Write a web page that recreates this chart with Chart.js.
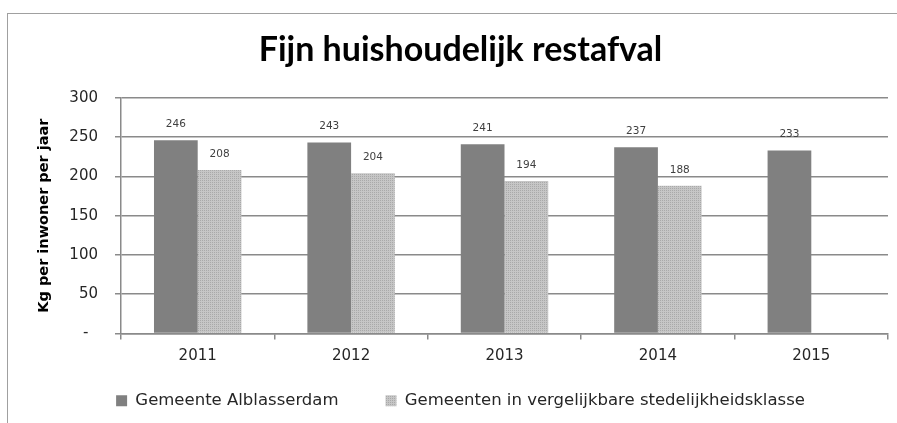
<!DOCTYPE html>
<html>
<head>
<meta charset="utf-8">
<script src="https://cdn.jsdelivr.net/npm/chart.js@4/dist/chart.umd.min.js"></script>
<style>
  html, body { margin: 0; padding: 0; background: #fff; overflow: hidden; }
  #frame { position: absolute; left: 7px; top: 13px; width: 1000px; height: 600px;
           border-left: 1.5px solid #a0a0a0; border-top: 1.5px solid #a0a0a0; }
  #wrap { position: absolute; left: 0; top: 0; width: 897px; height: 419px; }
</style>
</head>
<body>
<div id="frame"></div>
<div id="wrap"><canvas id="afvalChart"></canvas></div>
<script>
const years = ['2011', '2012', '2013', '2014', '2015'];
const alblasserdam = [246, 243, 241, 237, 233];
const vergelijkbaar = [208, 204, 194, 188, null];
const yTicks = [0, 50, 100, 150, 200, 250, 300];

const TITLE_FONT = 'Lato, "Open Sans", sans-serif';
const FONT = '"DejaVu Sans", sans-serif';
const TEXT = '#262626';
const LINE = '#8a8a8a';

function dottedPattern() {
  const c = document.createElement('canvas');
  c.width = 2;
  c.height = 2;
  const g = c.getContext('2d');
  g.fillStyle = '#c6c6c6';
  g.fillRect(0, 0, 2, 2);
  g.fillStyle = '#a9a9a9';
  g.fillRect(0, 0, 1, 1);
  return g.createPattern(c, 'repeat');
}

// waarden boven de staven
const valueLabels = {
  id: 'valueLabels',
  afterDatasetsDraw(chart) {
    const ctx = chart.ctx;
    ctx.save();
    ctx.font = `10.5px ${FONT}`;
    ctx.fillStyle = '#404040';
    ctx.textAlign = 'center';
    ctx.textBaseline = 'middle';
    chart.data.datasets.forEach((ds, i) => {
      chart.getDatasetMeta(i).data.forEach((bar, j) => {
        const v = ds.data[j];
        if (v == null) return;
        ctx.fillText(String(v), bar.x, bar.y - 16);
      });
    });
    ctx.restore();
  },
};

new Chart(document.getElementById('afvalChart').getContext('2d'), {
  type: 'bar',
  data: {
    labels: years,
    datasets: [
      {
        label: 'Gemeente Alblasserdam',
        data: alblasserdam,
        backgroundColor: '#808080',
        categoryPercentage: 0.57,
        barPercentage: 1.0,
      },
      {
        label: 'Gemeenten in vergelijkbare stedelijkheidsklasse',
        data: vergelijkbaar,
        backgroundColor: dottedPattern(),
        categoryPercentage: 0.57,
        barPercentage: 1.0,
      },
    ],
  },
  options: {
    responsive: true,
    maintainAspectRatio: false,
    animation: false,
    layout: { padding: { left: 33, right: 9, top: 0, bottom: 0 } },
    plugins: {
      title: {
        display: true,
        text: 'Fijn huishoudelijk restafval',
        color: '#000',
        font: { family: TITLE_FONT, size: 34, weight: 'bold' },
        padding: { top: 30, bottom: 27 },
      },
      legend: {
        position: 'bottom',
        labels: {
          color: TEXT,
          font: { family: FONT, size: 16.5 },
          boxWidth: 11,
          boxHeight: 11,
          padding: 26,
          // extra ruimte tussen de twee legenda-items
          generateLabels: (chart) => {
            const items = Chart.defaults.plugins.legend.labels.generateLabels(chart);
            items[0].text += '    ';
            return items;
          },
        },
      },
      tooltip: { enabled: false },
    },
    scales: {
      x: {
        offset: true,
        grid: {
          display: true,
          offset: true,
          drawOnChartArea: false,
          tickLength: 6,
          color: LINE,
          lineWidth: 1.5,
        },
        border: { color: LINE, width: 1.5 },
        ticks: { color: TEXT, font: { family: FONT, size: 15 }, padding: 8 },
        afterFit: (scale) => { scale.height = 33; },
      },
      y: {
        min: 0,
        max: 300,
        afterBuildTicks: (scale) => { scale.ticks = yTicks.map((v) => ({ value: v })); },
        grid: { color: LINE, lineWidth: 1.5, tickLength: 6 },
        border: { color: LINE, width: 1.5 },
        ticks: {
          color: TEXT,
          font: { family: FONT, size: 15 },
          padding: 17,
          callback: (v) => (v === 0 ? '-  ' : v),
        },
        title: {
          display: true,
          text: 'Kg per inwoner per jaar',
          color: '#000',
          font: { family: FONT, size: 14.5, weight: 'bold' },
          padding: { top: 3, bottom: 0 },
        },
        afterFit: (scale) => { scale.width = 88; },
      },
    },
  },
  plugins: [valueLabels],
});
</script>
</body>
</html>
